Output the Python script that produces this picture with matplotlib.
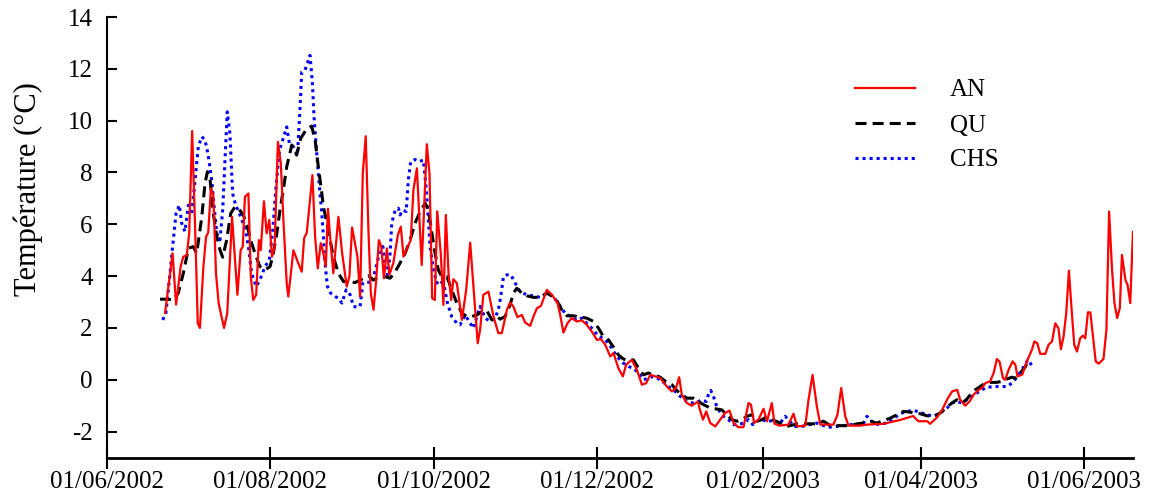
import numpy as np
import pandas as pd
import matplotlib
matplotlib.use("Agg")
import matplotlib.pyplot as plt
import matplotlib.dates as mdates

plt.rcParams['font.family'] = ['Liberation Serif', 'DejaVu Serif']
plt.rcParams['axes.unicode_minus'] = False

# jours écoulés depuis le 01/06/2002 et températures (°C)
start = pd.Timestamp("2002-06-01")

an_day = [21.8, 24.6, 25.9, 27.6, 28.6, 29.9, 30.8, 31.9, 33.0, 34.0, 34.8, 36.1, 37.1, 37.9,
          38.9, 39.8, 40.8, 41.8, 43.8, 45.0, 46.8, 48.8, 50.0, 50.8, 51.6, 52.9, 53.8, 54.7,
          55.8, 56.8, 57.5, 58.7, 59.7, 60.7, 61.7, 62.7, 63.9, 65.0, 65.9, 67.2, 67.8, 69.7,
          71.5, 72.8, 73.7, 74.7, 76.8, 77.8, 78.8, 79.9, 80.9, 81.8, 82.6, 83.4, 84.6, 86.5,
          87.9, 89.6, 90.6, 91.6, 93.6, 94.6, 95.6, 96.7, 97.7, 98.6, 99.6, 100.6, 101.6, 102.5,
          103.5, 104.6, 105.5, 107.0, 108.7, 109.8, 110.8, 111.8, 113.5, 114.5, 115.8, 117.6,
          119.5, 120.5, 121.5, 122.5, 123.4, 124.7, 125.7, 126.6, 127.6, 128.6, 129.4, 130.7,
          132.6, 134.2, 135.7, 136.9, 138.5, 139.4, 140.6, 142.5, 144.4, 146.2, 147.5, 149.4,
          150.6, 151.8, 153.3, 155.0, 156.2, 158.1, 159.3, 160.6, 162.1, 164.3, 166.2, 168.3,
          169.3, 170.5, 172.0, 173.6, 175.5, 177.4, 179.2, 181.1, 183.0, 184.5, 186.1, 188.0,
          189.2, 191.0, 192.7, 193.9, 196.0, 197.9, 199.8, 201.4, 202.9, 204.7, 206.6, 209.1,
          211.0, 212.5, 213.7, 214.7, 216.6, 218.4, 220.7, 221.3, 222.6, 223.8, 225.3, 227.2,
          229.0, 230.9, 232.5, 234.0, 235.8, 237.7, 239.6, 240.5, 241.7, 243.3, 245.2, 246.5,
          248.3, 249.3, 251.2, 254.5, 256.4, 257.7, 260.8, 262.0, 263.5, 265.1, 266.4, 271.3,
          272.8, 274.2, 275.7, 276.9, 281.3, 283.8, 289.9, 296.2, 301.0, 303.0, 306.3, 307.4,
          310.0, 311.9, 313.8, 315.6, 317.5, 318.6, 320.5, 322.1, 323.6, 325.5, 326.7, 328.0,
          329.8, 331.1, 332.3, 333.3, 334.6, 335.4, 336.7, 338.2, 339.2, 340.0, 341.8, 343.5,
          345.4, 346.3, 347.4, 348.5, 350.4, 351.6, 352.9, 354.1, 355.3, 356.2, 357.2, 358.2,
          359.2, 360.3, 361.2, 362.2, 363.4, 364.4, 365.3, 366.3, 367.2, 368.2, 369.2, 370.3,
          372.1, 373.2, 374.2, 375.3, 376.2, 377.2, 378.2, 379.0, 380.3, 381.1, 382.1, 383.1]
an_val = [2.58, 4.88, 2.9, 4.37, 4.75, 4.8, 5.66, 9.6, 5.9, 2.18, 2.0, 4.37, 5.52, 5.68,
          7.38, 7.13, 4.11, 2.95, 2.0, 2.57, 6.29, 3.28, 5.0, 5.14, 7.06, 7.19, 3.98, 3.08,
          3.28, 5.39, 5.0, 6.89, 5.65, 6.17, 4.75, 5.14, 9.18, 8.35, 6.29, 3.73, 3.21, 5.0,
          4.5, 4.17, 5.46, 5.68, 7.9, 5.52, 4.3, 5.27, 4.88, 4.37, 6.6, 5.52, 4.11, 6.29,
          4.88, 3.6, 3.98, 5.88, 4.75, 3.21, 7.96, 9.4, 5.78, 3.34, 2.7, 3.85, 5.39, 5.14,
          3.92, 5.07, 4.05, 4.5, 5.59, 5.91, 4.75, 5.0, 5.39, 7.32, 8.16, 4.43,
          9.09, 7.96, 3.15, 3.08, 6.5, 4.88, 2.89, 6.36, 4.11, 3.08, 3.88, 3.73,
          2.31, 3.47, 5.29, 3.6, 1.41, 1.93, 3.28, 3.4, 2.44, 1.8, 1.8, 2.7,
          2.98, 2.83, 2.42, 2.5, 2.21, 2.08, 2.44, 2.76, 2.85, 3.47, 3.28, 2.96,
          2.5, 1.82, 2.18, 2.38, 2.25, 2.29, 2.12, 1.86, 1.54, 1.57, 1.35, 0.9,
          1.03, 0.45, 0.13, 0.58, 0.77, 0.39, -0.19, -0.13, 0.19, 0.13, 0.07, -0.26,
          -0.45, -0.32, 0.1, -0.58, -0.9, -1.0, -0.84, -1.1, -1.54, -1.22, -1.67, -1.8,
          -1.54, -1.28, -1.19, -1.67, -1.83, -1.83, -0.9, -0.96, -1.67, -1.54, -1.12, -1.6,
          -0.9, -1.7, -1.77, -1.73, -1.31, -1.8, -1.77, -0.77, 0.19, -1.03, -1.73, -1.73,
          -1.35, -0.32, -1.41, -1.77, -1.77, -1.73, -1.7, -1.55, -1.4, -1.6, -1.6, -1.7,
          -1.45, -1.16, -0.75, -0.45, -0.39, -0.77, -1.0, -0.84, -0.58, -0.39, -0.32, -0.13,
          -0.06, 0.26, 0.8, 0.7, 0.06, 0.0, 0.39, 0.71, 0.58, 0.13, 0.2, 0.71,
          1.16, 1.48, 1.41, 1.0, 1.0, 1.35, 1.48, 2.18, 1.99, 1.18, 1.67, 2.57,
          4.21, 2.57, 1.35, 1.09, 1.6, 1.7, 1.6, 2.6, 2.6, 1.67, 0.71, 0.62,
          0.8, 1.93, 6.49, 4.24, 2.96, 2.38, 2.76, 4.82, 3.85, 3.66, 2.96, 5.71]

qu_day = [19.9, 22.4, 24.9, 26.7, 28.6, 30.5, 32.3, 33.6, 35.5, 36.7, 37.6, 38.6, 39.8, 41.1,
          42.3, 43.3, 44.8, 46.3, 47.9, 49.1, 51.0, 52.5, 54.1, 55.8, 57.2, 59.1, 61.0, 62.2,
          63.5, 64.7, 65.9, 67.2, 69.1, 70.9, 72.4, 74.7, 76.5, 77.8, 79.0, 80.3, 80.9, 82.2,
          83.4, 84.6, 86.5, 88.4, 90.9, 92.7, 95.2, 97.7, 99.6, 101.4, 103.9, 105.8, 107.7,
          109.5, 111.4, 113.3, 115.1, 117.0, 118.9, 120.1, 121.4, 122.6, 123.8, 125.1, 127.0,
          128.8, 130.7, 132.6, 134.4, 136.3, 138.2, 140.0, 141.9, 143.8, 145.6, 146.9, 148.7,
          150.6, 151.8, 153.1, 155.0, 156.8, 159.3, 161.8, 164.3, 166.2, 168.0, 169.9, 171.8,
          174.2, 176.7, 179.2, 181.7, 183.6, 185.4, 187.3, 189.2, 191.0, 192.9, 194.8, 196.6,
          198.5, 200.4, 202.2, 204.1, 206.6, 209.1, 211.0, 212.8, 214.7, 216.6, 219.0, 220.9,
          222.8, 225.3, 227.8, 229.6, 231.5, 233.4, 235.3, 237.1, 239.0, 240.9, 242.7, 244.6,
          246.5, 248.3, 250.8, 253.3, 255.2, 257.7, 262.6, 265.1, 267.6, 270.1, 277.6, 280.1,
          282.5, 285.0, 287.5, 290.0, 292.5, 295.0, 297.5, 300.6, 303.7, 306.2, 308.7, 311.2,
          313.7, 315.5, 317.4, 319.3, 320.9, 322.4, 324.2, 326.1, 328.0, 329.8, 332.3, 334.2,
          336.1, 337.9, 339.2, 341.0, 342.9, 344.1]
qu_val = [3.11, 3.11, 3.08, 3.34, 4.11, 5.07, 5.14, 4.88, 6.29, 7.58, 8.03, 7.71, 6.42, 5.53,
          5.01, 4.73, 5.4, 6.42, 6.68, 6.62, 6.36, 5.91, 5.27, 4.75, 4.37, 4.24, 4.37, 4.88,
          5.65, 6.55, 7.32, 8.22, 9.06, 8.67, 9.31, 9.69, 9.79, 9.25, 8.22, 7.2, 6.68, 6.04,
          5.4, 4.75, 4.11, 3.79, 3.79, 3.75, 3.88, 4.01, 3.85, 3.96, 3.98, 3.92, 4.17,
          4.5, 4.88, 5.4, 6.04, 6.49, 6.81, 6.55, 5.65, 4.88, 4.24, 3.98, 3.98,
          3.47, 2.96, 2.57, 2.44, 2.44, 2.5, 2.63, 2.67, 2.31, 2.44, 2.34, 2.44,
          2.89, 3.34, 3.53, 3.34, 3.24, 3.18, 3.18, 3.34, 3.24, 3.06, 2.7, 2.47,
          2.47, 2.42, 2.38, 2.25, 1.99, 1.67, 1.54, 1.26, 0.96, 0.8, 0.74, 0.77,
          0.45, 0.19, 0.26, 0.19, 0.1, -0.1, -0.19, -0.41, -0.58, -0.71, -0.71, -0.84,
          -0.96, -1.09, -1.13, -1.16, -1.35, -1.54, -1.6, -1.54, -1.41, -1.35, -1.6, -1.54,
          -1.41, -1.54, -1.64, -1.8, -1.77, -1.7, -1.7, -1.7, -1.6, -1.77, -1.77, -1.7,
          -1.67, -1.6, -1.67, -1.58, -1.48, -1.35, -1.22, -1.26, -1.31, -1.39, -1.41, -1.28,
          -1.05, -0.9, -0.77, -0.9, -0.77, -0.58, -0.39, -0.26, -0.13, -0.1, -0.1, -0.06,
          0.03, 0.1, 0.06, 0.26, 0.49, 0.8]

chs_day = [20.9, 22.1, 23.4, 24.6, 25.9, 27.1, 28.0, 29.2, 30.5, 31.7, 33.0, 34.2, 35.5, 36.7,
           37.9, 39.2, 40.1, 41.1, 42.3, 43.3, 44.2, 45.0, 46.0, 47.0, 48.3, 49.1, 50.4, 51.6,
           52.9, 54.1, 55.8, 57.2, 59.1, 60.7, 62.0, 63.2, 64.5, 65.7, 67.2, 68.2, 69.7, 71.2,
           72.2, 72.8, 74.0, 75.3, 75.9, 76.8, 77.4, 78.4, 79.4, 80.3, 80.9, 81.5, 82.4, 83.6,
           85.3, 86.5, 87.8, 89.4, 90.9, 92.1, 93.4, 94.6, 95.6, 96.8, 99.0, 100.6, 101.8,
           103.1, 103.9, 104.9, 105.8, 106.4, 107.7, 108.9, 109.5, 110.5, 111.8, 112.6, 113.5,
           115.1, 116.7, 118.2, 119.2, 120.1, 120.7, 122.0, 123.2, 124.5, 126.0, 127.2, 128.8,
           130.7, 131.9, 133.8, 135.7, 136.9, 138.2, 139.4, 141.3, 143.1, 145.0, 146.2, 147.1,
           148.1, 149.4, 150.9, 152.5, 154.3, 156.8, 159.3, 161.8, 164.3, 166.8, 169.3, 171.1,
           173.6, 175.5, 177.4, 179.2, 181.7, 183.6, 185.4, 187.3, 189.2, 191.0, 192.9, 194.8,
           196.6, 198.5, 200.4, 202.2, 204.1, 206.6, 208.5, 210.4, 212.2, 214.1, 216.6, 219.0,
           220.9, 222.2, 223.8, 224.6, 225.5, 226.5, 227.5, 228.8, 230.2, 232.1, 234.0, 235.8,
           237.7, 239.6, 241.2, 242.7, 244.6, 246.7, 248.9, 251.2, 253.3, 254.9, 257.0, 259.5,
           262.6, 265.1, 267.6, 270.1, 275.1, 277.6, 282.3, 283.8, 285.0, 286.9, 291.3, 293.7,
           296.2, 298.7, 301.2, 303.7, 306.2, 308.7, 311.2, 313.7, 315.5, 317.4, 319.3, 321.1,
           323.0, 324.9, 326.7, 328.6, 330.5, 332.3, 336.1, 337.9, 339.8, 341.7, 343.5, 344.1,
           345.8]
chs_val = [2.31, 2.57, 3.85, 5.14, 6.42, 6.74, 6.04, 5.72, 6.74, 6.36, 7.71, 8.99, 9.38, 9.25,
           8.67, 7.71, 6.68, 5.65, 5.4, 6.55, 8.6, 10.34, 9.5, 7.19, 6.68, 6.55, 6.17, 5.91,
           5.14, 4.11, 3.6, 3.85, 4.37, 4.62, 5.78, 7.45, 8.86, 9.25, 9.76, 9.12, 8.99, 8.67,
           10.53, 11.88, 11.95, 12.33, 12.52, 11.43, 10.15, 8.74, 7.45, 6.42, 5.53, 4.5, 3.6, 3.34,
           3.21, 3.15, 2.96, 3.47, 3.28, 2.83, 2.8, 2.83, 3.73, 3.79, 3.73, 4.37, 4.88,
           5.14, 4.37, 4.05, 4.88, 6.04, 6.55, 6.62, 6.36, 6.55, 6.49, 7.71, 8.42,
           8.5, 8.42, 8.48, 7.45, 6.17, 5.14, 4.24, 3.73, 3.85, 3.6, 2.96, 2.44,
           2.18, 2.12, 2.5, 2.18, 1.99, 2.44, 2.83, 2.38, 2.25, 2.38, 2.7, 3.21,
           3.98, 4.05, 4.05, 3.73, 3.4, 3.28, 3.24, 3.18, 3.34, 3.21, 2.83, 2.57,
           2.42, 2.29, 2.38, 2.18, 1.93, 1.67, 1.6, 1.41, 1.09, 0.84, 0.64, 0.51,
           0.45, 0.26, 0.0, 0.06, 0.13, 0.0, -0.15, -0.32, -0.45, -0.64, -0.84, -0.9,
           -0.84, -0.77, -0.84, -0.58, -0.41, -0.64, -0.96, -1.22, -1.41, -1.54, -1.73, -1.73,
           -1.67, -1.54, -1.73, -1.6, -1.52, -1.64, -1.54, -1.7, -1.41, -1.6, -1.8, -1.8,
           -1.73, -1.67, -1.77, -1.83, -1.77, -1.73, -1.73, -1.41, -1.54, -1.73, -1.67, -1.5,
           -1.31, -1.22, -1.18, -1.26, -1.35, -1.41, -1.28, -1.09, -0.9, -0.84, -0.9, -0.77,
           -0.64, -0.51, -0.39, -0.28, -0.28, -0.26, -0.26, -0.13, 0.1, 0.39, 0.71, 0.77,
           0.45]

tick_dates = ["2002-06-01", "2002-08-01", "2002-10-01", "2002-12-01",
              "2003-02-01", "2003-04-01", "2003-06-01"]


def to_dates(days):
    return start + pd.to_timedelta(np.array(days), unit="D")


fig = plt.figure(figsize=(11.61, 5.0), dpi=100)
ax = fig.add_axes([0.0919, 0.085, 0.8837, 0.881])

ax.plot(to_dates(chs_day), chs_val, color="#0000ff", lw=2.2, dashes=(1, 1.3),
        label="CHS", zorder=2)
ax.plot(to_dates(qu_day), qu_val, color="black", lw=2.2, dashes=(3.6, 2.0),
        label="QU", zorder=3)
ax.plot(to_dates(an_day), an_val, color="#ff0000", lw=1.6, label="AN", zorder=4)

ax.set_ylim(-3, 14)
ax.set_yticks(np.arange(-2, 15, 2))
ax.set_xlim(start, start + pd.Timedelta(days=383))
ax.set_xticks(pd.to_datetime(tick_dates))
ax.xaxis.set_major_formatter(mdates.DateFormatter("%d/%m/%Y"))

for s in ["top", "right"]:
    ax.spines[s].set_visible(False)
ax.spines["left"].set_linewidth(1.5)
ax.spines["bottom"].set_linewidth(2.0)
ax.tick_params(axis="y", direction="in", length=7, width=1.5, labelsize=18, pad=10)
ax.tick_params(axis="x", direction="inout", length=16, width=1.5, labelsize=18, pad=2)

ax.set_ylabel("Température (°C)", fontsize=22)
ax.yaxis.set_label_coords(-0.062, 0.61)

handles, labels = ax.get_legend_handles_labels()
order = [2, 1, 0]
ax.legend([handles[i] for i in order], [labels[i] for i in order],
          loc="upper left", bbox_to_anchor=(0.717, 0.887), bbox_transform=fig.transFigure,
          frameon=False, fontsize=18, handlelength=2.4, handletextpad=1.4,
          labelspacing=0.5)

fig.savefig("out.png", dpi=100)
